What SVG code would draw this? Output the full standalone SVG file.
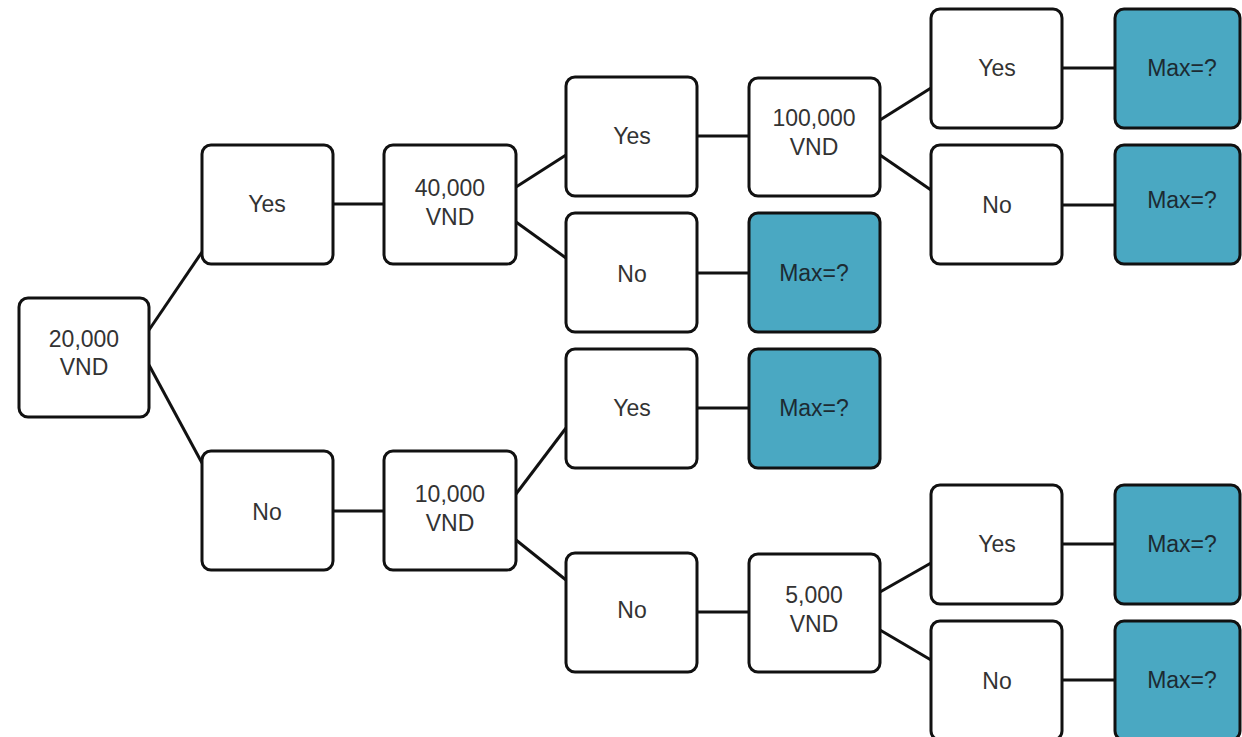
<svg xmlns="http://www.w3.org/2000/svg" width="1242" height="737" viewBox="0 0 1242 737">
<style>
.n{fill:#fff;stroke:#111;stroke-width:3}
.t{fill:#4aa8c2;stroke:#111;stroke-width:3}
text{font-family:"Liberation Sans",Arial,sans-serif;font-size:23px;fill:#333;text-anchor:middle;dominant-baseline:central}
.d{fill:#1c2b33}
#edges line{stroke:#111;stroke-width:3}
</style>
<rect width="1242" height="737" fill="#fff"/>
<g id="edges">
<line x1="149" y1="330" x2="202" y2="252"/>
<line x1="149" y1="365" x2="202" y2="463"/>
<line x1="333" y1="204" x2="383" y2="204"/>
<line x1="333" y1="511" x2="383" y2="511"/>
<line x1="516" y1="187" x2="566" y2="155"/>
<line x1="516" y1="222" x2="566" y2="258"/>
<line x1="697" y1="136" x2="749" y2="136"/>
<line x1="697" y1="273" x2="749" y2="273"/>
<line x1="880" y1="120" x2="931" y2="88"/>
<line x1="880" y1="155" x2="931" y2="190"/>
<line x1="1062" y1="68" x2="1115" y2="68"/>
<line x1="1062" y1="205" x2="1115" y2="205"/>
<line x1="516" y1="494" x2="566" y2="428"/>
<line x1="516" y1="540" x2="566" y2="580"/>
<line x1="697" y1="408" x2="749" y2="408"/>
<line x1="697" y1="612" x2="749" y2="612"/>
<line x1="880" y1="592" x2="931" y2="563"/>
<line x1="880" y1="630" x2="931" y2="660"/>
<line x1="1062" y1="544" x2="1115" y2="544"/>
<line x1="1062" y1="680" x2="1115" y2="680"/>
</g>
<g id="root"><rect class="n" x="19" y="298" width="130" height="119" rx="9"/><text x="84" y="339">20,000</text><text x="84" y="367">VND</text></g>
<g id="yes1"><rect class="n" x="202" y="145" width="131" height="119" rx="9"/><text x="267" y="204">Yes</text></g>
<g id="no1"><rect class="n" x="202" y="451" width="131" height="119" rx="9"/><text x="267" y="512">No</text></g>
<g id="v40000"><rect class="n" x="384" y="145" width="132" height="119" rx="9"/><text x="450" y="188">40,000</text><text x="450" y="217">VND</text></g>
<g id="v10000"><rect class="n" x="384" y="451" width="132" height="119" rx="9"/><text x="450" y="494">10,000</text><text x="450" y="523">VND</text></g>
<g id="yes2"><rect class="n" x="566" y="77" width="131" height="119" rx="9"/><text x="632" y="136">Yes</text></g>
<g id="no2"><rect class="n" x="566" y="213" width="131" height="119" rx="9"/><text x="632" y="274">No</text></g>
<g id="yes3"><rect class="n" x="566" y="349" width="131" height="119" rx="9"/><text x="632" y="408">Yes</text></g>
<g id="no3"><rect class="n" x="566" y="553" width="131" height="119" rx="9"/><text x="632" y="610">No</text></g>
<g id="v100000"><rect class="n" x="749" y="78" width="131" height="118" rx="9"/><text x="814" y="118">100,000</text><text x="814" y="147">VND</text></g>
<g id="max1"><rect class="t" x="749" y="213" width="131" height="119" rx="9"/><text class="d" x="814" y="273">Max=?</text></g>
<g id="max2"><rect class="t" x="749" y="349" width="131" height="119" rx="9"/><text class="d" x="814" y="408">Max=?</text></g>
<g id="v5000"><rect class="n" x="749" y="554" width="131" height="118" rx="9"/><text x="814" y="595">5,000</text><text x="814" y="624">VND</text></g>
<g id="yes4"><rect class="n" x="931" y="9" width="131" height="119" rx="9"/><text x="997" y="68">Yes</text></g>
<g id="no4"><rect class="n" x="931" y="145" width="131" height="119" rx="9"/><text x="997" y="205">No</text></g>
<g id="yes5"><rect class="n" x="931" y="485" width="131" height="119" rx="9"/><text x="997" y="544">Yes</text></g>
<g id="no5"><rect class="n" x="931" y="621" width="131" height="119" rx="9"/><text x="997" y="681">No</text></g>
<g id="max3"><rect class="t" x="1115" y="9" width="125" height="119" rx="9"/><text class="d" x="1182" y="68">Max=?</text></g>
<g id="max4"><rect class="t" x="1115" y="145" width="125" height="119" rx="9"/><text class="d" x="1182" y="200">Max=?</text></g>
<g id="max5"><rect class="t" x="1115" y="485" width="125" height="119" rx="9"/><text class="d" x="1182" y="544">Max=?</text></g>
<g id="max6"><rect class="t" x="1115" y="621" width="125" height="119" rx="9"/><text class="d" x="1182" y="680">Max=?</text></g>
</svg>
